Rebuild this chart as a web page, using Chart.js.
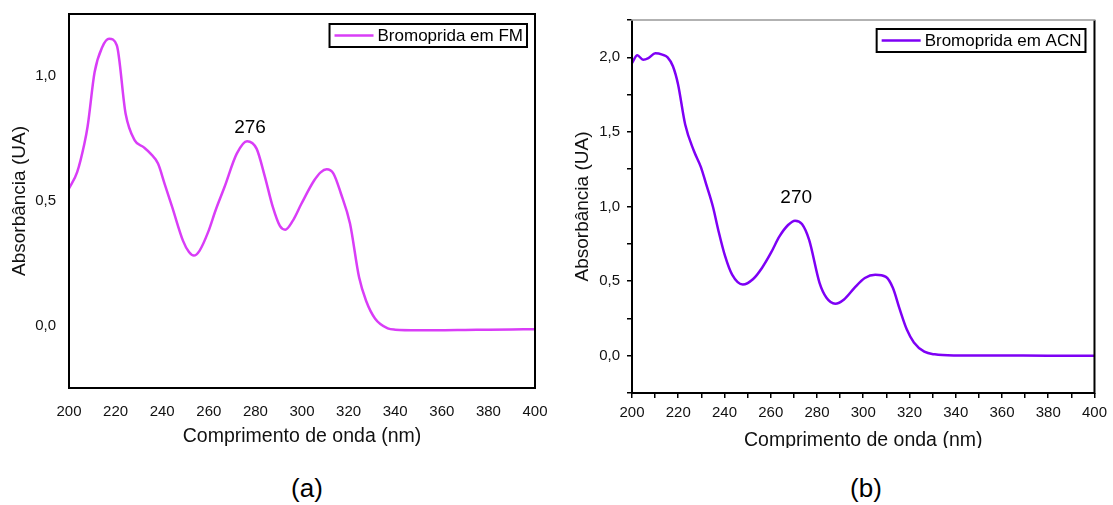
<!DOCTYPE html>
<html>
<head>
<meta charset="utf-8">
<script src="https://cdn.jsdelivr.net/npm/chart.js@4.4.1/dist/chart.umd.min.js"></script>
<style>
  body { margin: 0; background: #fff; width: 1113px; height: 505px; position: relative; overflow: hidden; }
  canvas { position: absolute; top: 0; }
  #chartA { left: 0; }
  #chartB { left: 560px; }
  .tag { position: absolute; top: 473px; font: 26px Arial, "Liberation Sans", sans-serif; color: #000; transform: translateX(-50%); }
</style>
</head>
<body>
<canvas id="chartA" width="560" height="455"></canvas>
<canvas id="chartB" width="553" height="448"></canvas>
<div class="tag" style="left:307px">(a)</div>
<div class="tag" style="left:866px">(b)</div>
<script>
// (a) Bromoprida em FM
const fmWave = [200, 203.5, 206.6, 208, 211, 214.3, 217.2, 220.5, 224.3, 228.2, 232, 235, 238.2, 241, 244.3,
  248.9, 251.5, 253.6, 256, 259.7, 263, 266.7, 272, 276.4, 280.5, 284, 287.5, 290.5, 292.8, 296, 299.8,
  305.2, 308, 310.6, 313.5, 316.7, 320.6, 324.5, 327.5, 331.4, 336.8, 340, 350, 360, 370, 380, 390, 400];
const fmAbs = [0.55, 0.616, 0.73, 0.80, 1.017, 1.118, 1.151, 1.125, 0.85, 0.743, 0.716, 0.69, 0.65, 0.57, 0.475,
  0.341, 0.295, 0.281, 0.30, 0.375, 0.465, 0.555, 0.69, 0.74, 0.71, 0.60, 0.475, 0.40, 0.385, 0.42, 0.49,
  0.582, 0.615, 0.627, 0.61, 0.53, 0.41, 0.194, 0.10, 0.028, -0.011, -0.016, -0.018, -0.018, -0.017, -0.016, -0.015, -0.014];

// (b) Bromoprida em ACN
const acnWave = [200, 202.3, 204.8, 207.1, 210.1, 213.1, 215.4, 217.7, 219.9, 223, 226.7, 229.8, 232, 235, 237.3,
  240.3, 243.3, 247.9, 252.4, 256.2, 260, 263.7, 267.5, 270.5, 273.5, 276.6, 281.1, 284.1, 287.9, 291.7, 296.2,
  300.7, 305.2, 309.8, 312.8, 315.8, 318.8, 321.9, 326.4, 330.9, 340, 360, 380, 400];
const acnAbs = [1.962, 2.013, 1.984, 1.995, 2.027, 2.018, 2.0, 1.94, 1.82, 1.55, 1.375, 1.264, 1.153, 0.998, 0.843,
  0.665, 0.543, 0.477, 0.514, 0.588, 0.687, 0.798, 0.876, 0.905, 0.882, 0.776, 0.488, 0.388, 0.348, 0.377, 0.455,
  0.521, 0.543, 0.528, 0.455, 0.31, 0.177, 0.089, 0.027, 0.009, 0.002, 0.001, 0.0, 0.0];

const xTicks = [200, 220, 240, 260, 280, 300, 320, 340, 360, 380, 400];
const fmYTicks = [0, 0.5, 1.0];
const acnYTicks = [0, 0.5, 1.0, 1.5, 2.0];

Chart.defaults.font.family = 'Arial, "Liberation Sans", sans-serif';
Chart.defaults.color = '#111';

const fmt = v => v.toFixed(1).replace('.', ',');

// frame, legend box and peak label
const decor = {
  id: 'decor',
  afterDraw(chart, args, opts) {
    const {ctx, chartArea: a, scales} = chart;
    ctx.save();
    ctx.strokeStyle = '#000';
    ctx.lineWidth = 2;
    ctx.beginPath();
    ctx.moveTo(a.left, a.top);
    ctx.lineTo(a.left, a.bottom);
    ctx.lineTo(a.right, a.bottom);
    ctx.lineTo(a.right, a.top);
    ctx.stroke();
    ctx.strokeStyle = opts.topColor;
    ctx.lineWidth = opts.topWidth;
    ctx.beginPath();
    ctx.moveTo(a.left - 1, a.top);
    ctx.lineTo(a.right + 1, a.top);
    ctx.stroke();

    const ds = chart.data.datasets[0];
    ctx.font = '17px Arial, "Liberation Sans", sans-serif';
    const tw = ctx.measureText(ds.label).width;
    const bw = tw + 52, bh = 23;
    const bx = a.right - opts.legendRight - bw, by = a.top + opts.legendTop;
    ctx.strokeStyle = '#000';
    ctx.lineWidth = 2;
    ctx.strokeRect(bx, by, bw, bh);
    ctx.strokeStyle = ds.borderColor;
    ctx.lineWidth = 2.5;
    ctx.beginPath();
    ctx.moveTo(bx + 5, by + bh / 2);
    ctx.lineTo(bx + 44, by + bh / 2);
    ctx.stroke();
    ctx.fillStyle = '#000';
    ctx.textBaseline = 'middle';
    ctx.fillText(ds.label, bx + 48, by + bh / 2 + 1);

    ctx.font = '19px Arial, "Liberation Sans", sans-serif';
    ctx.textAlign = 'center';
    ctx.fillText(opts.peakText, scales.x.getPixelForValue(opts.peakX), scales.y.getPixelForValue(opts.peakY));
    ctx.restore();
  }
};

function makeChart(id, wave, abs, label, color, yMax, yTicks, withTicks, pad, decorOpts, xTitlePad, yTitlePad, xTickPad, yTickPad) {
  const tickGrid = withTicks
    ? {display: true, drawOnChartArea: false, drawTicks: true, tickLength: 5, color: '#000', lineWidth: 1.5}
    : {display: false};
  return new Chart(document.getElementById(id), {
    type: 'line',
    data: {
      datasets: [{
        label: label,
        data: wave.map((w, i) => ({x: w, y: abs[i]})),
        borderColor: color,
        borderWidth: 2.5,
        pointRadius: 0,
        cubicInterpolationMode: 'monotone',
        fill: false
      }]
    },
    options: {
      responsive: false,
      animation: false,
      layout: {padding: pad},
      plugins: {legend: {display: false}, tooltip: {enabled: false}, decor: decorOpts},
      scales: {
        x: {
          type: 'linear', min: 200, max: 400,
          afterBuildTicks: s => { s.ticks = (withTicks ? xTicks.concat(xTicks.slice(1).map(v => v - 10)) : xTicks).sort((p, q) => p - q).map(v => ({value: v})); },
          afterFit: s => { s.height = pad.h; },
          ticks: {font: {size: 15}, padding: xTickPad, maxRotation: 0, autoSkip: false,
            callback: v => (v % 20 === 0 ? String(v) : '')},
          grid: tickGrid,
          border: {display: false},
          title: {display: true, text: 'Comprimento de onda (nm)', font: {size: 19.5}, color: '#111',
            padding: {top: 0, bottom: xTitlePad}}
        },
        y: {
          min: -0.25, max: yMax,
          afterBuildTicks: s => {
            const t = [];
            for (let v = -0.25; v <= yMax + 1e-9; v += 0.25) t.push({value: Math.round(v * 100) / 100});
            s.ticks = withTicks ? t : yTicks.map(v => ({value: v}));
          },
          afterFit: s => { s.width = pad.w; },
          ticks: {font: {size: 15}, padding: yTickPad, autoSkip: false,
            callback: v => (yTicks.some(t => Math.abs(t - v) < 1e-6) ? fmt(v) : '')},
          grid: tickGrid,
          border: {display: false},
          title: {display: true, text: 'Absorbância (UA)', font: {size: 19}, color: '#111',
            padding: {top: yTitlePad, bottom: 0}}
        }
      }
    },
    plugins: [decor]
  });
}

makeChart('chartA', fmWave, fmAbs, 'Bromoprida em FM', '#D93DF7', 1.25, fmYTicks, false,
  {left: 0, right: 25, top: 14, bottom: 0, w: 69, h: 67},
  {legendRight: 8, legendTop: 10, peakText: '276', peakX: 277.7, peakY: 0.795, topColor: '#000', topWidth: 2},
  6.3, 8.6, 7, 5);

makeChart('chartB', acnWave, acnAbs, 'Bromoprida em ACN', '#7E00F5', 2.25, acnYTicks, true,
  {left: 0, right: 16, top: 20, bottom: 0, w: 72, h: 55},
  {legendRight: 9, legendTop: 9, peakText: '270', peakX: 271, peakY: 1.057, topColor: '#999', topWidth: 1.5},
  -4.7, 11.6, 6, 7);
</script>
</body>
</html>
